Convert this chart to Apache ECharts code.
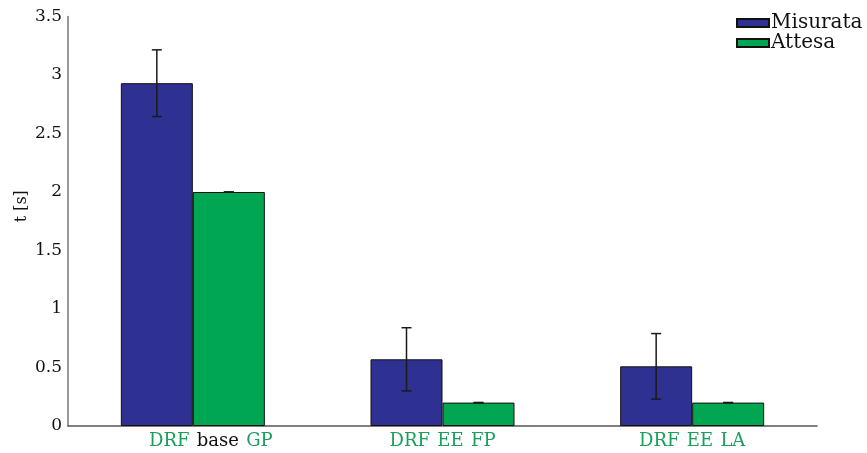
<!DOCTYPE html>
<html>
<head>
<meta charset="utf-8">
<script src="https://cdn.jsdelivr.net/npm/echarts@6/dist/echarts.min.js"></script>
<style>
  html, body { margin: 0; padding: 0; background: #fff; }
  #chart { width: 867px; height: 453px; }
</style>
</head>
<body>
<div id="chart"></div>
<script>
// dati
var categories = ['DRF base GP', 'DRF EE FP', 'DRF EE LA'];
var misurata = [2.93, 0.57, 0.51];
var misurataErr = [0.285, 0.27, 0.28];
var attesa = [2.0, 0.2, 0.2];
var attesaErr = [0, 0, 0];
var yTicks = [0, 0.5, 1, 1.5, 2, 2.5, 3, 3.5];

var serif = '"DejaVu Serif", "Liberation Serif", serif';
var BAR_W = 72;

var chart = echarts.init(document.getElementById('chart'));

// barre d'errore disegnate come serie custom
var errorSeries = function (name, means, errs, shift) {
    var data = means.map(function (m, i) {
        return [i, m - errs[i], m + errs[i]];
    });
    return {
        name: name + ' err',
        type: 'custom',
        z: 10,
        silent: true,
        renderItem: function (params, api) {
            var lo = api.coord([api.value(0), api.value(1)]);
            var hi = api.coord([api.value(0), api.value(2)]);
            var x = lo[0] + shift;
            var cap = 5;
            var style = { stroke: '#1a1a1a', lineWidth: 1.5 };
            return {
                type: 'group',
                children: [
                    { type: 'line', shape: { x1: x, y1: hi[1], x2: x, y2: lo[1] }, style: style },
                    { type: 'line', shape: { x1: x - cap, y1: hi[1], x2: x + cap, y2: hi[1] }, style: style },
                    { type: 'line', shape: { x1: x - cap, y1: lo[1], x2: x + cap, y2: lo[1] }, style: style }
                ]
            };
        },
        encode: { x: 0, y: [1, 2] },
        data: data
    };
};

var option = {
    animation: false,
    grid: { left: 68, right: 50, top: 16.5, bottom: 27 },
    legend: {
        orient: 'vertical',
        left: 736,
        top: 13,
        padding: 0,
        itemWidth: 32,
        itemHeight: 8,
        itemGap: 0,
        icon: 'rect',
        data: ['Misurata', 'Attesa'],
        textStyle: { fontFamily: serif, fontSize: 20, color: '#111', padding: [0, 0, 0, -3], lineHeight: 20 }
    },
    xAxis: {
        type: 'category',
        data: categories,
        axisLine: { lineStyle: { color: '#555', width: 1.5 } },
        axisTick: { show: false },
        axisLabel: {
            margin: 6,
            formatter: function (v, i) {
                var p = v.split(' ');
                // la prima etichetta nell'originale e' spostata a destra
                var first = i === 0 ? 'g0' : 'g';
                return '{' + first + '|' + p[0] + '} {' + (p[1] === 'base' ? 'k' : 'g') + '|' + p[1] + '} {g|' + p[2] + '}';
            },
            rich: {
                g0: { color: '#1a9e5c', fontFamily: serif, fontSize: 18, padding: [0, 2, 0, 38] },
                g: { color: '#1a9e5c', fontFamily: serif, fontSize: 18, padding: [0, 2, 0, 2] },
                k: { color: '#111', fontFamily: serif, fontSize: 18, padding: [0, 2, 0, 2] }
            }
        }
    },
    yAxis: {
        type: 'value',
        min: 0,
        max: 3.5,
        interval: 0.5,
        name: 't [s]',
        nameLocation: 'middle',
        nameGap: 38,
        nameMoveOverlap: false,
        nameTextStyle: { fontFamily: serif, fontSize: 16, color: '#111', padding: [0, 0, 0, 30] },
        axisLine: { show: true, lineStyle: { color: '#777', width: 1.5 } },
        axisTick: { show: false },
        splitLine: { show: false },
        axisLabel: {
            margin: 6,
            fontFamily: serif,
            fontSize: 17,
            color: '#111',
            formatter: function (v) { return yTicks.indexOf(v) >= 0 ? String(v) : ''; }
        }
    },
    series: [
        {
            name: 'Misurata',
            type: 'bar',
            barWidth: BAR_W,
            barGap: '0%',
            data: misurata,
            itemStyle: { color: '#2e3192', borderColor: '#111', borderWidth: 1 }
        },
        {
            name: 'Attesa',
            type: 'bar',
            barWidth: BAR_W,
            barGap: '0%',
            data: attesa,
            itemStyle: { color: '#00a651', borderColor: '#111', borderWidth: 1 }
        },
        errorSeries('Misurata', misurata, misurataErr, -BAR_W / 2),
        errorSeries('Attesa', attesa, attesaErr, BAR_W / 2)
    ]
};

chart.setOption(option);
</script>
</body>
</html>
